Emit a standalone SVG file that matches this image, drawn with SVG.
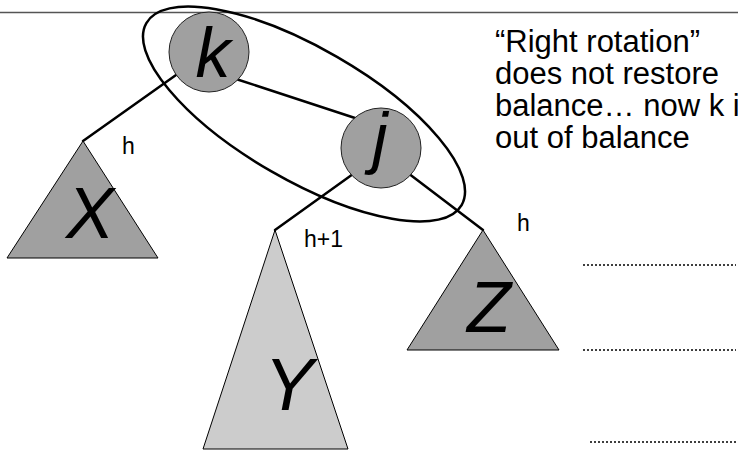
<svg xmlns="http://www.w3.org/2000/svg" width="738" height="450" viewBox="0 0 738 450">
<style>
.conn{stroke:#000;stroke-width:2.5;fill:none;stroke-linecap:round}
.tri{stroke:#000;stroke-width:1}
.dark{fill:#a0a0a0}
.light{fill:#cccccc}
.node{fill:#a0a0a0;stroke:#222;stroke-width:1}
.big{font-family:"Liberation Sans",Arial,sans-serif;font-style:italic;text-anchor:middle;fill:#000}
.lbl{font-family:"Liberation Sans",Arial,sans-serif;font-size:23px;fill:#000}
.note{font-family:"Liberation Sans",Arial,sans-serif;font-size:31px;fill:#000}
.dot{stroke:#000;stroke-width:1.5;stroke-dasharray:2 2}
</style>
<line x1="0" y1="12.5" x2="738" y2="12.5" stroke="#555" stroke-width="1.5"/>
<g id="connectors">
<line class="conn" x1="200" y1="58" x2="83" y2="141"/>
<line class="conn" x1="236" y1="79" x2="355" y2="118"/>
<line class="conn" x1="360" y1="169" x2="275" y2="230"/>
<line class="conn" x1="404" y1="170" x2="483" y2="230"/>
</g>
<g id="X">
<polygon class="tri dark" points="83,141 7,258 158,258"/>
<text class="big" x="90" y="238" font-size="72">X</text>
</g>
<g id="Y">
<polygon class="tri light" points="275,230 203,449 348,449"/>
<text class="big" x="289" y="410" font-size="74">Y</text>
</g>
<g id="Z">
<polygon class="tri dark" points="483,230 407,350 559,350"/>
<text class="big" x="489" y="332" font-size="72">Z</text>
</g>
<g id="k">
<circle class="node" cx="209" cy="52" r="40"/>
<text class="big" x="213" y="77" font-size="70">k</text>
</g>
<g id="j">
<circle class="node" cx="381" cy="148" r="40"/>
<text class="big" x="380" y="161" font-size="69">j</text>
</g>
<g id="group">
<ellipse cx="304" cy="114" rx="182" ry="66" transform="rotate(30 304 114)" fill="none" stroke="#000" stroke-width="2.5"/>
</g>
<g id="labels">
<text class="lbl" x="122" y="154">h</text>
<text class="lbl" x="304" y="247">h+1</text>
<text class="lbl" x="517" y="231">h</text>
</g>
<g id="note">
<text class="note" x="495" y="52">“Right rotation”</text>
<text class="note" x="495" y="84">does not restore</text>
<text class="note" x="495" y="116">balance… now k i</text>
<text class="note" x="495" y="148">out of balance</text>
</g>
<g id="rules">
<line class="dot" x1="583" y1="265" x2="736" y2="265"/>
<line class="dot" x1="583" y1="350" x2="736" y2="350"/>
<line class="dot" x1="590" y1="442" x2="738" y2="442"/>
</g>
</svg>
